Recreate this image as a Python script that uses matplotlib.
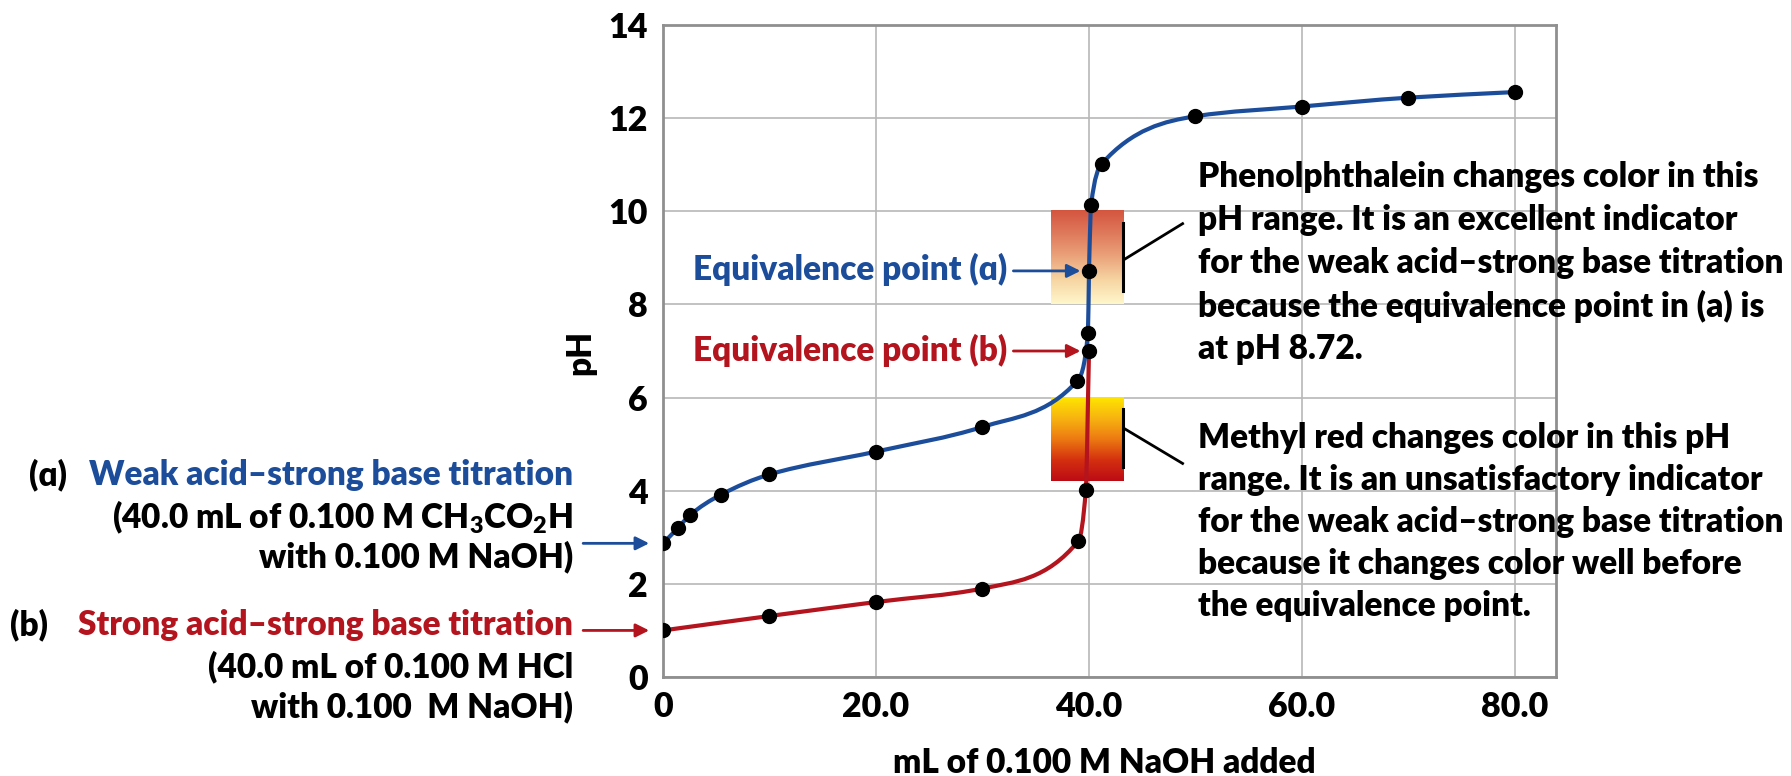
import numpy as np
import matplotlib
matplotlib.use('Agg')
import matplotlib.pyplot as plt
from matplotlib.path import Path
from matplotlib.patches import PathPatch
from matplotlib.colors import LinearSegmentedColormap

plt.rcParams['font.family'] = ['Lato', 'DejaVu Sans']
plt.rcParams['font.weight'] = 'heavy'
plt.rcParams['mathtext.default'] = 'regular'

# (a) weak acid - strong base titration
weak_ml = [0, 1.4, 2.5, 5.4, 10, 20, 30, 38.9, 39.9, 40, 40.2, 41.2, 50, 60, 70, 80]
weak_ph = [2.87, 3.2, 3.47, 3.91, 4.35, 4.84, 5.37, 6.36, 7.39, 8.72, 10.14, 11.02, 12.04, 12.25, 12.44, 12.56]
# (b) strong acid - strong base titration
strong_ml = [0, 10, 20, 30, 39, 39.7, 40]
strong_ph = [1.0, 1.31, 1.61, 1.90, 2.92, 4.02, 7.0]

phenol_range = (8.0, 10.0)
methyl_range = (4.2, 6.0)
indicator_ml = (36.4, 43.2)

x_ticks = [0, 20, 40, 60, 80]
x_ticklabels = ['0', '20.0', '40.0', '60.0', '80.0']
y_ticks = [0, 2, 4, 6, 8, 10, 12, 14]

phenol_lines = ['Phenolphthalein changes color in this',
                'pH range. It is an excellent indicator',
                'for the weak acid\u2013strong base titration',
                'because the equivalence point in (a) is',
                'at pH 8.72.']
methyl_lines = ['Methyl red changes color in this pH',
                'range. It is an unsatisfactory indicator',
                'for the weak acid\u2013strong base titration',
                'because it changes color well before',
                'the equivalence point.']

blue = '#1c4d9b'
red = '#b3141d'
W, H = 1791, 776
FS = 24


def smooth_path(x, y):
    # monotone cubic (pchip style) drawn as bezier segments
    x = np.asarray(x, float)
    y = np.asarray(y, float)
    h = np.diff(x)
    d = np.diff(y) / h
    n = len(x)
    m = np.zeros(n)
    for k in range(1, n - 1):
        if d[k - 1] * d[k] > 0:
            w1 = 2 * h[k] + h[k - 1]
            w2 = h[k] + 2 * h[k - 1]
            m[k] = (w1 + w2) / (w1 / d[k - 1] + w2 / d[k])
    m[0] = d[0]
    m[-1] = d[-1]
    verts = [(x[0], y[0])]
    codes = [Path.MOVETO]
    for k in range(n - 1):
        verts += [(x[k] + h[k] / 3, y[k] + m[k] * h[k] / 3),
                  (x[k + 1] - h[k] / 3, y[k + 1] - m[k + 1] * h[k] / 3),
                  (x[k + 1], y[k + 1])]
        codes += [Path.CURVE4] * 3
    return Path(verts, codes)


def ftext(px, py, s, **kw):
    kw.setdefault('fontsize', FS)
    kw.setdefault('va', 'center')
    return fig.text(px / W, 1 - py / H, s, **kw)


fig = plt.figure(figsize=(W / 100, H / 100), dpi=100)
ax = fig.add_axes([663 / W, 1 - 677 / H, (1556 - 663) / W, (677 - 25) / H])
ax.set_xlim(0, 83.85)
ax.set_ylim(0, 14)

ax.set_xticks(x_ticks)
ax.set_xticklabels(x_ticklabels, fontsize=24.5, fontweight='heavy')
ax.set_yticks(y_ticks)
ax.set_yticklabels([str(v) for v in y_ticks], fontsize=24.5, fontweight='heavy')
ax.tick_params(axis='both', length=0)
ax.tick_params(axis='y', pad=11)
ax.tick_params(axis='x', pad=10)
ax.grid(True, color='#b8b8b8', lw=1.2, zorder=0)
ax.set_axisbelow(True)
for sp in ax.spines.values():
    sp.set_color('#8f8f8f')
    sp.set_linewidth(2)

# indicator colour ranges
grad = np.linspace(0, 1, 256).reshape(-1, 1)
phenol_cmap = LinearSegmentedColormap.from_list(
    'phenol', ['#fff7cc', '#f7d6a4', '#eba47c', '#df7a5c', '#d4553f'])
methyl_cmap = LinearSegmentedColormap.from_list(
    'methyl', ['#bd0b15', '#d4300f', '#ec7a12', '#f7b410', '#ffe600'])
ax.imshow(grad, extent=[indicator_ml[0], indicator_ml[1], phenol_range[0], phenol_range[1]],
          origin='lower', aspect='auto', cmap=phenol_cmap, zorder=1)
ax.imshow(grad, extent=[indicator_ml[0], indicator_ml[1], methyl_range[0], methyl_range[1]],
          origin='lower', aspect='auto', cmap=methyl_cmap, zorder=1)

# bracket and leader lines
bx = indicator_ml[1]
ax.plot([bx, bx], [phenol_range[0] + 0.28, phenol_range[1] - 0.25], color='k', lw=2.2, zorder=2)
ax.plot([bx, 48.9], [8.95, 9.75], color='k', lw=2, zorder=2, solid_capstyle='butt')
ax.plot([bx, bx], [methyl_range[0] + 0.3, methyl_range[1] - 0.24], color='k', lw=2.2, zorder=2)
ax.plot([bx, 48.9], [5.35, 4.57], color='k', lw=2, zorder=2, solid_capstyle='butt')

# titration curves
ax.add_patch(PathPatch(smooth_path(strong_ml, strong_ph), fill=False, edgecolor=red,
                       lw=3, zorder=3, capstyle='round'))
ax.add_patch(PathPatch(smooth_path(weak_ml, weak_ph), fill=False, edgecolor=blue,
                       lw=3, zorder=3.5, capstyle='round'))
ax.plot(strong_ml, strong_ph, 'o', color='k', ms=10, zorder=5)
ax.plot(weak_ml, weak_ph, 'o', color='k', ms=10, zorder=5)

# equivalence point labels
ax.annotate('', xy=(39.2, weak_ph[9]), xytext=(32.9, weak_ph[9]),
            arrowprops=dict(arrowstyle='-|>', color=blue, lw=2, mutation_scale=20, shrinkA=0, shrinkB=0))
ax.annotate('', xy=(39.2, strong_ph[-1]), xytext=(32.9, strong_ph[-1]),
            arrowprops=dict(arrowstyle='-|>', color=red, lw=2, mutation_scale=20, shrinkA=0, shrinkB=0))
ftext(1007, 269, 'Equivalence point (\u0251)', ha='right', color=blue)
ftext(1007, 350, 'Equivalence point (b)', ha='right', color=red)

# left side labels
ax.annotate('', xy=(-1.3, weak_ph[0]), xytext=(-7.5, weak_ph[0]), annotation_clip=False,
            arrowprops=dict(arrowstyle='-|>', color=blue, lw=2, mutation_scale=20, shrinkA=0, shrinkB=0))
ax.annotate('', xy=(-1.3, strong_ph[0]), xytext=(-7.5, strong_ph[0]), annotation_clip=False,
            arrowprops=dict(arrowstyle='-|>', color=red, lw=2, mutation_scale=20, shrinkA=0, shrinkB=0))
ftext(29, 475, '(\u0251)', ha='left', color='k')
ftext(573, 475, 'Weak acid\u2013strong base titration', ha='right', color=blue)
ftext(573, 517, '(40.0 mL of 0.100 M CH$_3$CO$_2$H', ha='right', color='k')
ftext(573, 557, 'with 0.100 M NaOH)', ha='right', color='k')
ftext(10, 625, '(b)', ha='left', color='k')
ftext(573, 625, 'Strong acid\u2013strong base titration', ha='right', color=red)
ftext(573, 667, '(40.0 mL of 0.100 M HCl', ha='right', color='k')
ftext(573, 707, 'with 0.100  M NaOH)', ha='right', color='k')

# right side notes
for i, line in enumerate(phenol_lines):
    ftext(1198, 177 + 43 * i, line, ha='left', color='k')
for i, line in enumerate(methyl_lines):
    ftext(1198, 438 + 42 * i, line, ha='left', color='k')

# axis labels
ftext(580, 352, 'pH', ha='center', rotation=90, color='k')
ftext(1104, 763, 'mL of 0.100 M NaOH added', ha='center', color='k')

fig.savefig('out.png', dpi=100)
